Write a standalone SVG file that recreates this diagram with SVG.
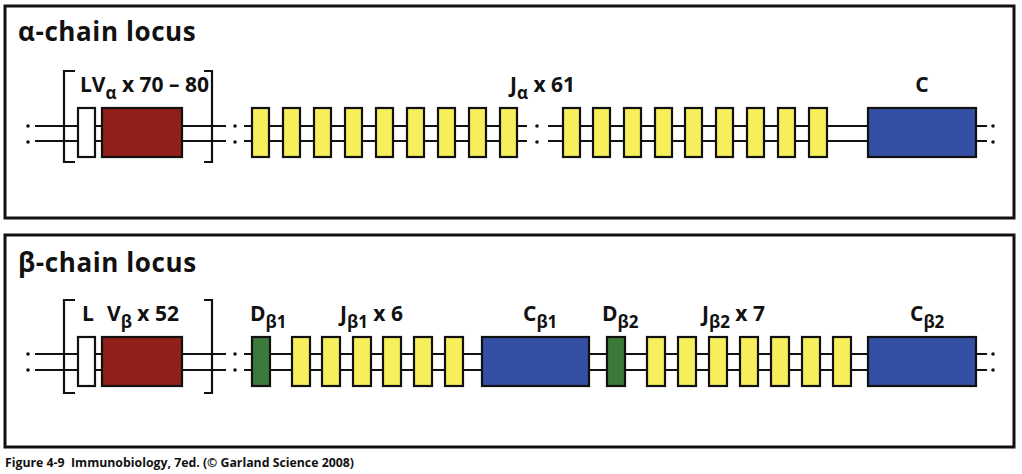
<svg xmlns="http://www.w3.org/2000/svg" width="1022" height="474" viewBox="0 0 1022 474">
<style>
.panel{fill:#fff;stroke:#111;stroke-width:3}
.title{font-family:"Open Sans","Liberation Sans",sans-serif;font-weight:700;font-size:26px;letter-spacing:0.6px;fill:#111}
.lbl{font-family:"Open Sans","Liberation Sans",sans-serif;font-weight:700;font-size:21px;fill:#111}
.sub{font-size:17px}
.foot{font-family:"Open Sans","Liberation Sans",sans-serif;font-weight:700;font-size:12.3px;fill:#111}
.ln{stroke:#111;stroke-width:2.2;fill:none}
.br{stroke:#111;stroke-width:2.2;fill:none}
.box{stroke:#111;stroke-width:2.2}
.w{fill:#fff}
.v{fill:#931f1a}
.j{fill:#f6ee5b}
.c{fill:#3450a4}
.d{fill:#3b7a39}
.dot{fill:#111}
</style>
<rect width="1022" height="474" fill="#fff"/>
<g id="alpha-panel">
<rect class="panel" x="5" y="6" width="1009" height="212"/>
<text class="title" x="18" y="41">α-chain locus</text>
</g>
<g id="beta-panel">
<rect class="panel" x="5" y="235" width="1009" height="212"/>
<text class="title" x="18" y="272">β-chain locus</text>
</g>
<g id="connectors">
<path class="ln" d="M35,126H226M35,141H226M244,126H527M244,141H527M548,126H987M548,141H987"/>
<path class="ln" d="M35,354H226M35,370H226M244,354H987M244,370H987"/>
<g class="dot">
<circle cx="28" cy="126" r="1.8"/><circle cx="28" cy="142" r="1.8"/>
<circle cx="235" cy="126" r="1.8"/><circle cx="235" cy="142" r="1.8"/>
<circle cx="537" cy="126" r="1.8"/><circle cx="537" cy="142" r="1.8"/>
<circle cx="993" cy="126" r="1.8"/><circle cx="993" cy="142" r="1.8"/>
<circle cx="28" cy="354" r="1.8"/><circle cx="28" cy="370" r="1.8"/>
<circle cx="235" cy="354" r="1.8"/><circle cx="235" cy="370" r="1.8"/>
<circle cx="993" cy="354" r="1.8"/><circle cx="993" cy="370" r="1.8"/>
</g>
</g>
<g id="alpha-LV">
<path class="br" d="M75,71H64V162H75M204,71H212V162H204"/>
<rect class="box w" x="78" y="108" width="17" height="49"/>
<rect class="box v" x="102" y="108" width="80" height="49"/>
<text class="lbl" x="80" y="92">LV<tspan class="sub" dy="7">α</tspan><tspan dy="-7"> x 70 – 80</tspan></text>
</g>
<g id="alpha-J">
<g class="box j">
<rect x="252" y="108" width="17" height="49"/><rect x="283" y="108" width="17" height="49"/><rect x="314" y="108" width="17" height="49"/>
<rect x="345" y="108" width="17" height="49"/><rect x="376" y="108" width="17" height="49"/><rect x="407" y="108" width="17" height="49"/>
<rect x="438" y="108" width="17" height="49"/><rect x="469" y="108" width="17" height="49"/><rect x="500" y="108" width="17" height="49"/>
<rect x="563" y="108" width="17" height="49"/><rect x="593" y="108" width="17" height="49"/><rect x="624" y="108" width="17" height="49"/>
<rect x="655" y="108" width="17" height="49"/><rect x="685" y="108" width="17" height="49"/><rect x="716" y="108" width="17" height="49"/>
<rect x="747" y="108" width="17" height="49"/><rect x="778" y="108" width="17" height="49"/><rect x="809" y="108" width="18" height="49"/>
</g>
<text class="lbl" x="510" y="92">J<tspan class="sub" dy="7">α</tspan><tspan dy="-7"> x 61</tspan></text>
</g>
<g id="alpha-C">
<rect class="box c" x="868" y="108" width="108" height="49"/>
<text class="lbl" x="922" y="92" text-anchor="middle">C</text>
</g>
<g id="beta-LV">
<path class="br" d="M75,300H64V393H75M204,300H212V393H204"/>
<rect class="box w" x="78" y="337" width="17" height="49"/>
<rect class="box v" x="102" y="337" width="80" height="49"/>
<text class="lbl" x="82" y="321">L</text>
<text class="lbl" x="107" y="321">V<tspan class="sub" dy="7">β</tspan><tspan dy="-7"> x 52</tspan></text>
</g>
<g id="beta-D1">
<rect class="box d" x="252" y="337" width="18" height="49"/>
<text class="lbl" x="250" y="321">D<tspan class="sub" dy="7">β1</tspan></text>
</g>
<g id="beta-J1">
<g class="box j">
<rect x="292" y="337" width="18" height="49"/><rect x="322" y="337" width="18" height="49"/><rect x="353" y="337" width="18" height="49"/>
<rect x="383" y="337" width="18" height="49"/><rect x="414" y="337" width="18" height="49"/><rect x="445" y="337" width="18" height="49"/>
</g>
<text class="lbl" x="340" y="321">J<tspan class="sub" dy="7">β1</tspan><tspan dy="-7"> x 6</tspan></text>
</g>
<g id="beta-C1">
<rect class="box c" x="482" y="337" width="107" height="49"/>
<text class="lbl" x="523" y="321">C<tspan class="sub" dy="7">β1</tspan></text>
</g>
<g id="beta-D2">
<rect class="box d" x="607" y="337" width="18" height="49"/>
<text class="lbl" x="602" y="321">D<tspan class="sub" dy="7">β2</tspan></text>
</g>
<g id="beta-J2">
<g class="box j">
<rect x="647" y="337" width="18" height="49"/><rect x="678" y="337" width="18" height="49"/><rect x="709" y="337" width="18" height="49"/>
<rect x="740" y="337" width="18" height="49"/><rect x="771" y="337" width="18" height="49"/><rect x="802" y="337" width="18" height="49"/>
<rect x="833" y="337" width="18" height="49"/>
</g>
<text class="lbl" x="702" y="321">J<tspan class="sub" dy="7">β2</tspan><tspan dy="-7"> x 7</tspan></text>
</g>
<g id="beta-C2">
<rect class="box c" x="868" y="337" width="108" height="49"/>
<text class="lbl" x="910" y="321">C<tspan class="sub" dy="7">β2</tspan></text>
</g>
<text class="foot" x="5" y="467">Figure 4-9&#160; Immunobiology, 7ed. (© Garland Science 2008)</text>
</svg>
